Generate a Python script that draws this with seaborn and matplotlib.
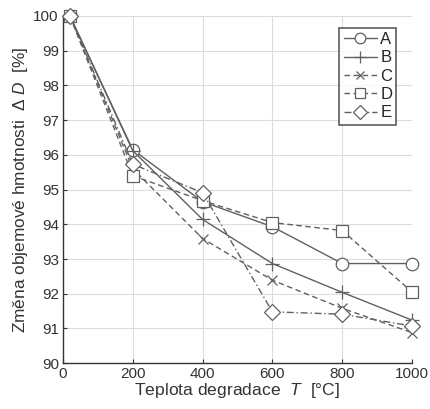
import matplotlib
matplotlib.use("Agg")
import matplotlib.pyplot as plt
import seaborn as sns
import pandas as pd

temps = [20, 200, 400, 600, 800, 1000]
A = [100, 96.15, 94.65, 93.93, 92.87, 92.87]
B = [100, 96.12, 94.14, 92.87, 92.04, 91.24]
C = [100, 95.6, 93.59, 92.39, 91.58, 90.88]
D = [100, 95.4, 94.68, 94.05, 93.82, 92.05]
E = [100, 95.73, 94.91, 91.48, 91.41, 91.07]
names = ["A", "B", "C", "D", "E"]
series = [A, B, C, D, E]
xticks = [0, 200, 400, 600, 800, 1000]
yticks = [90, 91, 92, 93, 94, 95, 96, 97, 98, 99, 100]

sns.set_style("white")
plt.rcParams['font.family'] = ['Liberation Sans', 'DejaVu Sans']
plt.rcParams['mathtext.fontset'] = 'custom'
plt.rcParams['mathtext.it'] = 'Liberation Sans:italic'
plt.rcParams['mathtext.rm'] = 'Liberation Sans'

rows = []
for n, s in zip(names, series):
    for t, v in zip(temps, s):
        rows.append({"T": t, "val": v, "series": n})
df = pd.DataFrame(rows)

styles = {
    "A": dict(marker="o", ls="-"),
    "B": dict(marker="+", ls="-"),
    "C": dict(marker="x", ls=(0, (4, 2.5))),
    "D": dict(marker="s", ls=(0, (4, 2.5))),
    "E": dict(marker="D", ls=(0, (5, 2, 1, 2))),
}
msize = {"A": 9, "B": 10, "C": 7, "D": 8, "E": 8}

fig = plt.figure(figsize=(4.31, 4.09), dpi=100)
ax = fig.add_axes([0.146, 0.112, 0.81, 0.849])
col = "#606060"
for n in names:
    sub = df[df["series"] == n]
    st = styles[n]
    sns.lineplot(data=sub, x="T", y="val", ax=ax, color=col, linestyle=st["ls"],
                 marker=st["marker"], markersize=msize[n], markerfacecolor="white",
                 markeredgecolor=col, markeredgewidth=0.9, linewidth=1.0,
                 label=n, clip_on=False, zorder=3)

ax.set_xlim(0, 1000)
ax.set_ylim(90, 100)
ax.set_xticks(xticks)
ax.set_yticks(yticks)
ax.grid(True, color="#dddddd", linewidth=0.8)
for s in ["top", "right"]:
    ax.spines[s].set_visible(False)
for s in ["left", "bottom"]:
    ax.spines[s].set_color("#333333")
    ax.spines[s].set_linewidth(1.0)
ax.tick_params(axis="both", direction="in", length=3, labelsize=11, colors="#333333",
               left=True, bottom=True, pad=3)
ax.set_xlabel(r"Teplota degradace  $T$  [°C]", fontsize=12.6, color="#333333", labelpad=0)
ax.set_ylabel(r"Změna objemové hmotnosti  $\Delta\ D$  [%]", fontsize=12.4, color="#333333", labelpad=2)

leg = ax.legend(loc="upper right", bbox_to_anchor=(0.965, 0.975), frameon=True, fancybox=False,
                edgecolor="#333333", fontsize=12, handlelength=2.0, handletextpad=0.2,
                borderpad=0.25, labelspacing=0.2, borderaxespad=0.2, markerscale=0.85)
leg.get_frame().set_linewidth(1.2)

fig.savefig("out.png", dpi=100)
